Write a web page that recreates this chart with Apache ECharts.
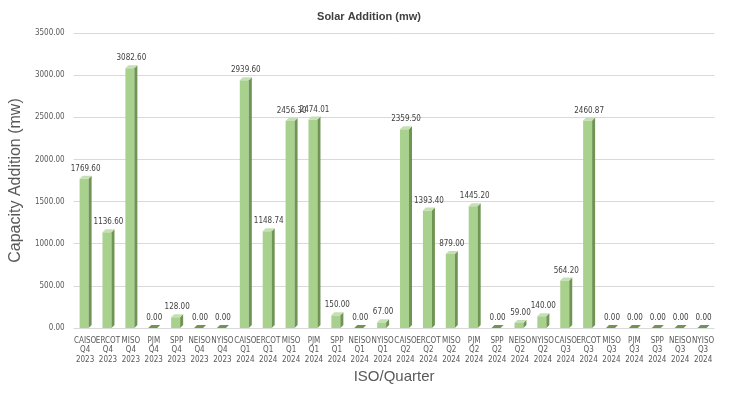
<!DOCTYPE html>
<html>
<head>
<meta charset="utf-8">
<script src="https://cdn.jsdelivr.net/npm/echarts@6/dist/echarts.min.js"></script>
<style>
  html, body { margin: 0; padding: 0; background: #fff; }
  #chart { width: 738px; height: 396px; }
</style>
</head>
<body>
<div id="chart"></div>
<script>
const isos = ['CAISO', 'ERCOT', 'MISO', 'PJM', 'SPP', 'NEISO', 'NYISO']
const quarters = ['Q4\n2023', 'Q1\n2024', 'Q2\n2024', 'Q3\n2024']
const q4_2023 = [1769.60, 1136.60, 3082.60, 0.00, 128.00, 0.00, 0.00]
const q1_2024 = [2939.60, 1148.74, 2456.30, 2474.01, 150.00, 0.00, 67.00]
const q2_2024 = [2359.50, 1393.40, 879.00, 1445.20, 0.00, 59.00, 140.00]
const q3_2024 = [564.20, 2460.87, 0.00, 0.00, 0.00, 0.00, 0.00]

const categories = []
quarters.forEach(q => isos.forEach(iso => categories.push(iso + '\n' + q)))
const values = [].concat(q4_2023, q1_2024, q2_2024, q3_2024)

const myChart = echarts.init(document.getElementById('chart'))
const font = 'Liberation Sans'
const narrow = "'Liberation Sans Narrow', 'DejaVu Sans Condensed', 'Liberation Sans'"
const front = '#A9D18E'
const side = '#6F9453'
const topFace = '#C5E0B4'

// 3D-looking column: front face, right side, top
function renderBar(params, api) {
  const idx = api.value(0)
  const val = api.value(1)
  const p = api.coord([idx, val])
  const b = api.coord([idx, 0])
  const w = 9, d = 3, dy = 3
  const x0 = p[0] - w / 2 - 1
  const x1 = x0 + w
  const top = p[1], base = b[1]
  const children = []
  if (base - top > 0.5) {
    children.push({ type: 'rect', shape: { x: x0, y: top, width: w, height: base - top }, style: { fill: front } })
    children.push({ type: 'polygon', shape: { points: [[x1, top], [x1 + d, top - dy], [x1 + d, base - dy], [x1, base]] }, style: { fill: side } })
  }
  children.push({ type: 'polygon', shape: { points: [[x0, top], [x0 + d, top - dy], [x1 + d, top - dy], [x1, top]] }, style: { fill: val > 0 ? topFace : side } })
  children.push({
    type: 'text',
    style: {
      text: val.toFixed(2), x: x0 + (w + d) / 2, y: top - dy - 3,
      align: 'center', verticalAlign: 'bottom',
      fill: '#404040', font: '8px ' + narrow
    }
  })
  return { type: 'group', children }
}

const option = {
  animation: false,
  title: {
    text: 'Solar Addition (mw)',
    left: 'center',
    top: 6,
    textStyle: { fontFamily: font, fontSize: 11, fontWeight: 'bold', color: '#404040' }
  },
  grid: { left: 71.5, right: 23.5, top: 33, bottom: 68 },
  xAxis: {
    type: 'category',
    data: categories,
    name: 'ISO/Quarter',
    nameLocation: 'middle',
    nameGap: 38,
    nameTextStyle: { fontFamily: font, fontSize: 15, color: '#595959' },
    axisLine: { show: false },
    axisTick: { show: false },
    axisLabel: {
      interval: 0,
      margin: 8,
      fontFamily: narrow,
      fontSize: 8,
      lineHeight: 9.5,
      color: '#595959'
    }
  },
  yAxis: {
    type: 'value',
    min: 0,
    max: 3500,
    interval: 500,
    name: 'Capacity Addition (mw)',
    nameLocation: 'middle',
    nameGap: 36,
    nameTextStyle: { fontFamily: font, fontSize: 16, color: '#595959' },
    axisLabel: {
      margin: 9,
      fontFamily: narrow,
      fontSize: 8,
      color: '#595959',
      formatter: v => v.toFixed(2)
    },
    splitLine: { lineStyle: { color: '#D9D9D9', width: 1 } }
  },
  series: [{
    type: 'custom',
    renderItem: renderBar,
    encode: { x: 0, y: 1 },
    data: values.map((v, i) => [i, v])
  }]
}
myChart.setOption(option)
</script>
</body>
</html>
